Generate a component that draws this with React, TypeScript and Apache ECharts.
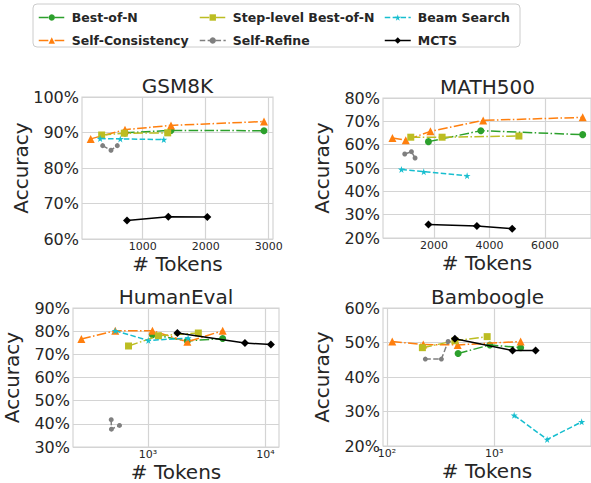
import React, { useEffect, useRef } from 'react';
import * as echarts from 'echarts';

const methods = ['Best-of-N', 'Self-Consistency', 'Step-level Best-of-N', 'Self-Refine', 'Beam Search', 'MCTS'];
const datasets = ['GSM8K', 'MATH500', 'HumanEval', 'Bamboogle'];

// [tokens, accuracy %]
const gsm8kBestOfN = [[720, 89.9], [1450, 90.6], [2925, 90.5]];
const gsm8kSelfConsistency = [[175, 88.2], [719, 90.8], [1449, 92.0], [2925, 93.1]];
const gsm8kStepLevel = [[349, 89.3], [708, 89.8], [1397, 89.9]];
const gsm8kSelfRefine = [[365, 86.3], [497, 85.0], [597, 86.3]];
const gsm8kBeamSearch = [[325, 88.3], [645, 88.2], [1335, 88.0]];
const gsm8kMCTS = [[751, 65.2], [1407, 66.3], [2026, 66.2]];

const math500BestOfN = [[1795, 61.3], [3686, 66.0], [7362, 64.3]];
const math500SelfConsistency = [[495, 62.9], [976, 61.9], [1868, 65.7], [3770, 70.4], [7362, 71.7]];
const math500StepLevel = [[1157, 63.2], [2288, 63.2], [5060, 63.7]];
const math500SelfRefine = [[940, 56.0], [1181, 57.0], [1312, 54.3]];
const math500BeamSearch = [[820, 49.4], [1626, 48.4], [3191, 46.7]];
const math500MCTS = [[1795, 25.8], [3542, 25.1], [4817, 24.0]];

const humanevalBestOfN = [[1094, 78.5], [2167, 75.8], [4325, 76.8]];
const humanevalSelfConsistency = [[272, 76.6], [528, 80.2], [1094, 80.2], [2167, 75.4], [4325, 80.2]];
const humanevalStepLevel = [[685, 73.6], [1230, 78.0], [2686, 79.2]];
const humanevalSelfRefine = [[488, 41.8], [490, 37.7], [574, 39.3]];
const humanevalBeamSearch = [[528, 80.2], [1010, 76.0], [2200, 77.0]];
const humanevalMCTS = [[1782, 79.2], [6685, 74.9], [11120, 74.2]];

const bamboogleBestOfN = [[461, 46.8], [912, 49.3], [1766, 48.5]];
const bamboogleSelfConsistency = [[112, 50.3], [218, 49.4], [457, 49.3], [1766, 50.3]];
const bamboogleStepLevel = [[214, 48.5], [430, 50.5], [861, 51.7]];
const bamboogleSelfRefine = [[228, 45.2], [322, 45.2], [372, 50.3]];
const bamboogleBeamSearch = [[1538, 28.9], [3126, 21.9], [6560, 27.0]];
const bamboogleMCTS = [[430, 51.1], [1486, 47.7], [2438, 47.7]];

const gsm8kXTicks = [1000, 2000, 3000];
const math500XTicks = [2000, 4000, 6000];
const humanevalXTicks = [1000, 10000];
const bamboogleXTicks = [100, 1000];

const allData = [
  [gsm8kBestOfN, gsm8kSelfConsistency, gsm8kStepLevel, gsm8kSelfRefine, gsm8kBeamSearch, gsm8kMCTS],
  [math500BestOfN, math500SelfConsistency, math500StepLevel, math500SelfRefine, math500BeamSearch, math500MCTS],
  [humanevalBestOfN, humanevalSelfConsistency, humanevalStepLevel, humanevalSelfRefine, humanevalBeamSearch, humanevalMCTS],
  [bamboogleBestOfN, bamboogleSelfConsistency, bamboogleStepLevel, bamboogleSelfRefine, bamboogleBeamSearch, bamboogleMCTS],
];
const xTicks = [gsm8kXTicks, math500XTicks, humanevalXTicks, bamboogleXTicks];

const FONT = 'DejaVu Sans';
const TEXT = '#262626';
const GRIDC = '#d4d4d4';
const star = 'path://M50,0 L61,35 L98,35 L68,57 L79,91 L50,70 L21,91 L32,57 L2,35 L39,35 Z';
const dashdot = [9.6, 2.4, 1.5, 2.4];
const dashed = [5.5, 2.4];

const styles = [
  { color: '#2ca02c', symbol: 'circle', size: 7, dash: dashdot },
  { color: '#ff7f0e', symbol: 'triangle', size: 8, dash: dashdot },
  { color: '#bcbd22', symbol: 'rect', size: 7, dash: dashdot },
  { color: '#7f7f7f', symbol: 'circle', size: 5, dash: dashed },
  { color: '#17becf', symbol: star, size: 7, dash: dashed },
  { color: '#000000', symbol: 'diamond', size: 8, dash: 'solid' },
];

const grids = [
  { left: 82, top: 97, width: 191, height: 142 },
  { left: 383, top: 98, width: 208, height: 140 },
  { left: 73, top: 308, width: 206, height: 140 },
  { left: 383, top: 308, width: 208, height: 138 },
];
const isLog = [false, false, true, true];
const xRange = [
  [37, 3068],
  [155, 7662],
  [231, 13030],
  [91.8, 8017],
];
const yRange = [
  [60, 100],
  [20, 80],
  [30, 90],
  [20, 60],
];
const sup: Record<string, string> = { '2': '²', '3': '³', '4': '⁴' };

export default function App() {
  const ref = useRef<HTMLDivElement>(null);
  useEffect(() => {
    if (!ref.current) return;
    const chart = echarts.init(ref.current, null, { renderer: 'svg' });
    const tx = (i: number, v: number) => (isLog[i] ? Math.log10(v) : v);

    const xAxis = grids.map((_, i) => ({
      type: 'value',
      gridIndex: i,
      min: tx(i, xRange[i][0]),
      max: tx(i, xRange[i][1]),
      axisLine: { show: false },
      axisTick: { show: false, customValues: xTicks[i].map((v) => tx(i, v)) },
      splitLine: { show: true, lineStyle: { color: GRIDC, width: 1.2 } },
      axisLabel: {
        customValues: xTicks[i].map((v) => tx(i, v)),
        fontFamily: FONT,
        fontSize: 11,
        lineHeight: 10,
        color: TEXT,
        margin: 2,
        formatter: (v: number) => (isLog[i] ? '10' + sup[String(Math.round(v))] : String(v)),
      },
      name: '# Tokens',
      nameLocation: 'middle',
      nameMoveOverlap: false,
      nameGap: 16,
      nameTextStyle: { fontFamily: FONT, fontSize: 20, lineHeight: 18, color: TEXT },
    }));

    const yAxis = grids.map((_, i) => ({
      type: 'value',
      gridIndex: i,
      min: yRange[i][0],
      max: yRange[i][1],
      interval: 10,
      axisLine: { show: false },
      axisTick: { show: false },
      splitLine: { show: true, lineStyle: { color: GRIDC, width: 1.2 } },
      axisLabel: { formatter: '{value}%', fontFamily: FONT, fontSize: 16, color: TEXT, margin: 3 },
      name: 'Accuracy',
      nameLocation: 'middle',
      nameRotate: 90,
      nameMoveOverlap: false,
      nameGap: 51,
      nameTextStyle: { fontFamily: FONT, fontSize: 20, color: TEXT },
    }));

    const series: any[] = [];
    allData.forEach((ds, i) => {
      ds.forEach((pts, j) => {
        const s = styles[j];
        series.push({
          type: 'line',
          name: methods[j],
          xAxisIndex: i,
          yAxisIndex: i,
          data: pts.map(([t, a]) => [tx(i, t), a]),
          symbol: s.symbol,
          symbolSize: s.size,
          showSymbol: true,
          lineStyle: { color: s.color, width: 1.5, type: s.dash },
          itemStyle: { color: s.color },
          z: 2 + j,
        });
      });
    });

    const titles = datasets.map((d, i) => ({
      text: d,
      left: grids[i].left + grids[i].width / 2 + (i % 2 === 1 ? 0.5 : 0),
      top: grids[i].top - 21,
      textAlign: 'center',
      padding: 0,
      textStyle: { fontFamily: FONT, fontSize: 20, fontWeight: 'normal', color: TEXT },
    }));

    const legendItem = (j: number) => ({
      name: methods[j],
      lineStyle: { type: styles[j].dash, width: 1.5, color: styles[j].color },
    });

    const legendBase = {
      orient: 'vertical',
      top: 11,
      padding: 0,
      itemGap: 10,
      itemWidth: 26,
      itemHeight: 8,
      selectedMode: false,
      textStyle: { fontFamily: FONT, fontSize: 12.5, fontWeight: 'bold', color: TEXT, padding: [0, 0, 0, 2] },
    };

    chart.setOption({
      animation: false,
      backgroundColor: '#ffffff',
      title: titles,
      grid: grids.map((g) => ({ ...g, show: true, borderColor: GRIDC, borderWidth: 1.2, backgroundColor: 'transparent' })),
      xAxis,
      yAxis,
      legend: [
        { ...legendBase, left: 38, data: [legendItem(0), legendItem(1)] },
        { ...legendBase, left: 199, data: [legendItem(2), legendItem(3)] },
        { ...legendBase, left: 384, data: [legendItem(4), legendItem(5)] },
      ],
      graphic: [
        {
          type: 'rect',
          shape: { x: 33, y: 4, width: 487, height: 43, r: 4 },
          style: { fill: '#ffffff', stroke: '#cccccc', lineWidth: 1 },
          z: 0,
        },
      ],
      series,
    });
    return () => chart.dispose();
  }, []);
  return <div ref={ref} style={{ width: 591, height: 483, position: 'absolute', left: 0, top: 0 }} />;
}
